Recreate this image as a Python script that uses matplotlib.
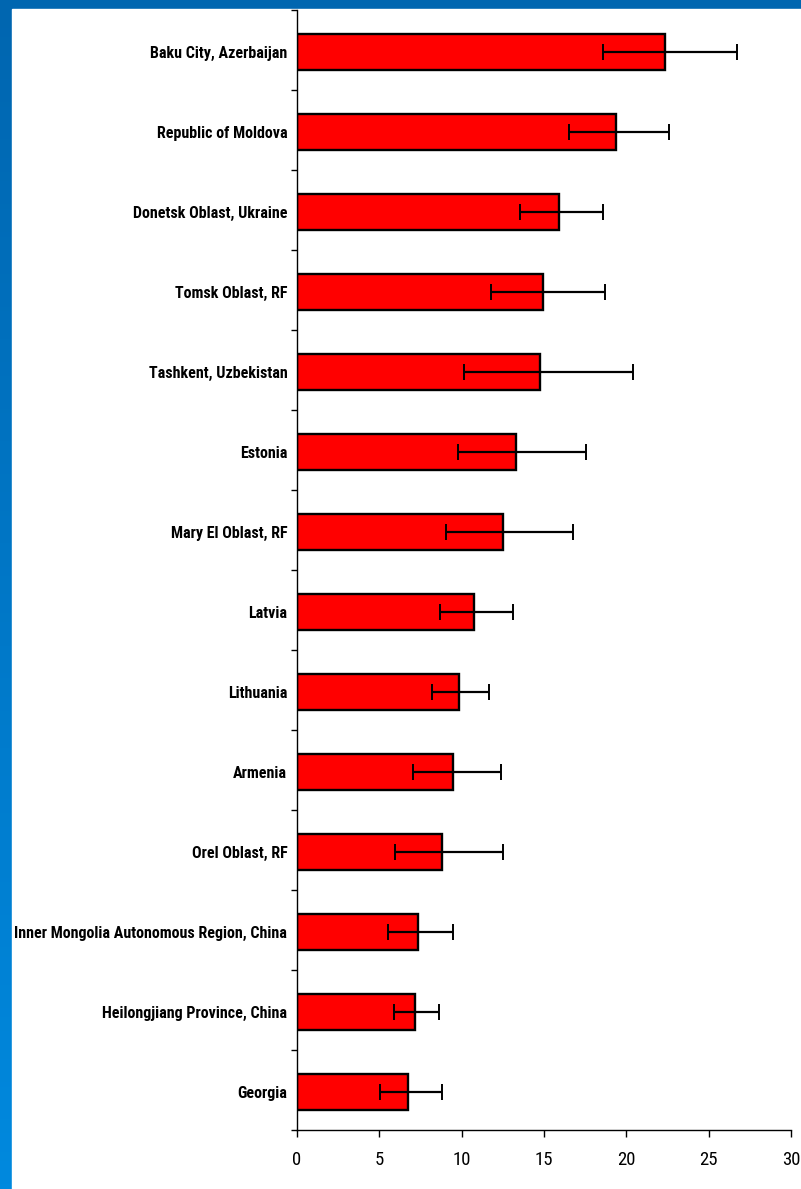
import numpy as np
import matplotlib
matplotlib.use("Agg")
import matplotlib.pyplot as plt
from matplotlib.colors import LinearSegmentedColormap

# data, top to bottom
regions = ["Baku City, Azerbaijan", "Republic of Moldova", "Donetsk Oblast, Ukraine",
           "Tomsk Oblast, RF", "Tashkent, Uzbekistan", "Estonia", "Mary El Oblast, RF",
           "Latvia", "Lithuania", "Armenia", "Orel Oblast, RF",
           "Inner Mongolia Autonomous Region, China", "Heilongjiang Province, China", "Georgia"]
values = [22.35, 19.4, 15.93, 14.94, 14.78, 13.32, 12.51, 10.75, 9.81, 9.45, 8.82, 7.33, 7.19, 6.76]
ci_low = [18.56, 16.5, 13.56, 11.8, 10.16, 9.76, 9.03, 8.68, 8.18, 7.04, 5.97, 5.55, 5.91, 5.06]
ci_high = [26.7, 22.6, 18.6, 18.7, 20.4, 17.55, 16.78, 13.13, 11.66, 12.37, 12.49, 9.45, 8.6, 8.82]
xticks = [0, 5, 10, 15, 20, 25, 30]

narrow = ["Roboto Condensed", "Liberation Sans", "DejaVu Sans"]

W, H = 801, 1189
fig = plt.figure(figsize=(W / 100, H / 100), dpi=100)

# blue frame background (gradient), white panel on top
bg = fig.add_axes([0, 0, 1, 1], zorder=-2)
cmap = LinearSegmentedColormap.from_list("frame", ["#0066b0", "#0089de"])
bg.imshow(np.linspace(0, 1, 256).reshape(-1, 1), aspect="auto", cmap=cmap,
          extent=[0, 1, 0, 1], origin="upper")
bg.add_patch(plt.Rectangle((12 / W, 0), 1, 1 - 9 / H, color="white"))
bg.set_xlim(0, 1)
bg.set_ylim(0, 1)
bg.axis("off")

ax = fig.add_axes([297 / W, 1 - 1130 / H, (791 - 297) / W, (1130 - 10) / H])
ax.patch.set_alpha(0)

y = np.arange(len(regions))
vals = np.array(values)
err = [vals - np.array(ci_low), np.array(ci_high) - vals]
ax.barh(y + 0.02, vals, height=0.45, color="#ff0000", edgecolor="black", linewidth=1.7, zorder=2)
ax.errorbar(vals, y + 0.02, xerr=err, fmt="none", ecolor="black", elinewidth=1.6,
            capsize=5.8, capthick=1.4, zorder=3)

ax.set_xlim(0, 30)
ax.set_ylim(len(regions) - 0.5, -0.5)
ax.set_xticks(xticks)
ax.set_xticklabels([str(t) for t in xticks], family=narrow, fontsize=13.5)
ax.tick_params(axis="x", direction="out", length=5, width=1, pad=10)

ax.set_yticks(y + 0.02)
ylabels = ax.set_yticklabels(regions, family=narrow, fontweight="bold", fontsize=12)
ax.set_yticks(np.arange(-0.5, len(regions)), minor=True)
ax.tick_params(axis="y", which="major", length=0, pad=7)
ax.tick_params(axis="y", which="minor", length=4, width=1, direction="out")

# fit label size so the longest one spans like in the picture (~274 px)
fig.canvas.draw()
r = fig.canvas.get_renderer()
wmax = max(t.get_window_extent(r).width for t in ylabels)
for t in ylabels:
    t.set_fontsize(12 * 274 / wmax)

for s in ["top", "right"]:
    ax.spines[s].set_visible(False)
for s in ["left", "bottom"]:
    ax.spines[s].set_linewidth(1)

fig.savefig("out.png", dpi=100)
